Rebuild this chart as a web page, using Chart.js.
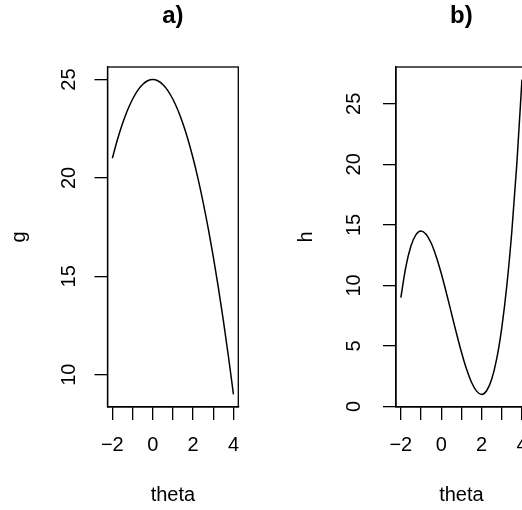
<!DOCTYPE html>
<html><head><meta charset="utf-8">
<script src="https://cdn.jsdelivr.net/npm/chart.js@4/dist/chart.umd.min.js"></script>
<style>
html,body{margin:0;padding:0;width:522px;height:510px;overflow:hidden;background:#fff;}
canvas{position:absolute;top:0;}
#ca{left:0;}
#cb{left:261px;}
</style></head><body>
<canvas id="ca" width="261" height="510"></canvas>
<canvas id="cb" width="290" height="510"></canvas>
<script>
// ---- data ----
const thetaA = [-2,-1.75,-1.5,-1.25,-1,-0.75,-0.5,-0.25,0,0.25,0.5,0.75,1,1.25,1.5,1.75,2,2.25,2.5,2.75,3,3.25,3.5,3.75,4];
const gValues = [21,21.94,22.75,23.44,24,24.44,24.75,24.94,25,24.94,24.75,24.44,24,23.44,22.75,21.94,21,19.94,18.75,17.44,16,14.44,12.75,10.94,9];
const thetaB = [-2,-1.75,-1.5,-1.25,-1,-0.75,-0.5,-0.25,0,0.25,0.5,0.75,1,1.25,1.5,1.75,2,2.25,2.5,2.75,3,3.25,3.5,3.75,4];
const hValues = [9,11.55,13.25,14.2,14.5,14.23,13.5,12.39,11,9.42,7.75,6.08,4.5,3.11,2,1.27,1,1.3,2.25,3.95,6.5,9.98,14.5,20.14,27];
const xTicks = [-2,-1,0,1,2,3,4];
const xTickLabels = ['\u22122','','0','','2','','4'];
const gTicks = [10,15,20,25];
const hTicks = [0,5,10,15,20,25];

Chart.defaults.font.family = "'Liberation Sans', Arial, Helvetica, sans-serif";
Chart.defaults.color = '#000';

const boxPlugin = {
  id: 'box',
  afterDraw(chart) {
    const {ctx, chartArea: a} = chart;
    ctx.save();
    ctx.strokeStyle = '#000';
    ctx.lineWidth = 1.3;
    ctx.strokeRect(a.left, a.top, a.right - a.left, a.bottom - a.top);
    ctx.restore();
  }
};

function panel(id, title, xs, ys, yTicks, yName, cfg) {
  return new Chart(document.getElementById(id), {
    type: 'scatter',
    data: { datasets: [{
      data: xs.map((x, i) => ({x: x, y: ys[i]})),
      showLine: true, borderColor: '#000', borderWidth: 1.5,
      pointRadius: 0, cubicInterpolationMode: 'monotone', fill: false
    }]},
    options: {
      responsive: false, animation: false, events: [],
      layout: { padding: { left: 0, top: 0, bottom: 0, right: cfg.padRight } },
      plugins: {
        legend: { display: false }, tooltip: { enabled: false },
        title: { display: true, text: title, fullSize: false, color: '#000',
          font: { size: 24, weight: 'bold' }, padding: { top: 1.6, bottom: 36.6 } }
      },
      scales: {
        x: {
          type: 'linear', position: 'bottom', min: -2.24, max: 4.24,
          afterBuildTicks: s => { s.ticks = xTicks.map(v => ({value: v})); },
          afterFit: s => { s.height = 103; },
          ticks: { callback: (v, i) => xTickLabels[i], color: '#000', padding: 0,
            font: { size: 20, lineHeight: '51px' }, maxRotation: 0, minRotation: 0, autoSkip: false },
          grid: { drawOnChartArea: false, drawTicks: true, tickLength: 13, color: '#000', lineWidth: 1.3 },
          border: { display: true, color: '#000', width: 1.3 },
          title: { display: true, text: 'theta', color: '#000', font: { size: 20 }, padding: { top: 0, bottom: 3 } }
        },
        y: {
          type: 'linear', position: 'left', min: cfg.yMin, max: cfg.yMax,
          afterBuildTicks: s => { s.ticks = yTicks.map(v => ({value: v})); },
          afterFit: s => { s.width = cfg.yWidth; },
          ticks: { callback: v => String(v), color: '#000', padding: cfg.yTickPad, crossAlign: 'center',
            font: { size: 20 }, maxRotation: 90, minRotation: 90, autoSkip: false },
          grid: { drawOnChartArea: false, drawTicks: true, tickLength: 13, color: '#000', lineWidth: 1.3 },
          border: { display: true, color: '#000', width: 1.3 },
          title: { display: true, text: yName, color: '#000', font: { size: 20 }, padding: { top: cfg.yTitlePad, bottom: 0 } }
        }
      }
    },
    plugins: [boxPlugin]
  });
}

panel('ca', 'a)', thetaA, gValues, gTicks, 'g',
  { padRight: 22.7, yMin: 8.36, yMax: 25.64, yWidth: 107.5, yTickPad: 13.4, yTitlePad: 7.6 });
panel('cb', 'b)', thetaB, hValues, hTicks, 'h',
  { padRight: 24.2, yMin: -0.04, yMax: 28.04, yWidth: 135, yTickPad: 16.9, yTitlePad: 33 });
</script>
</body></html>
